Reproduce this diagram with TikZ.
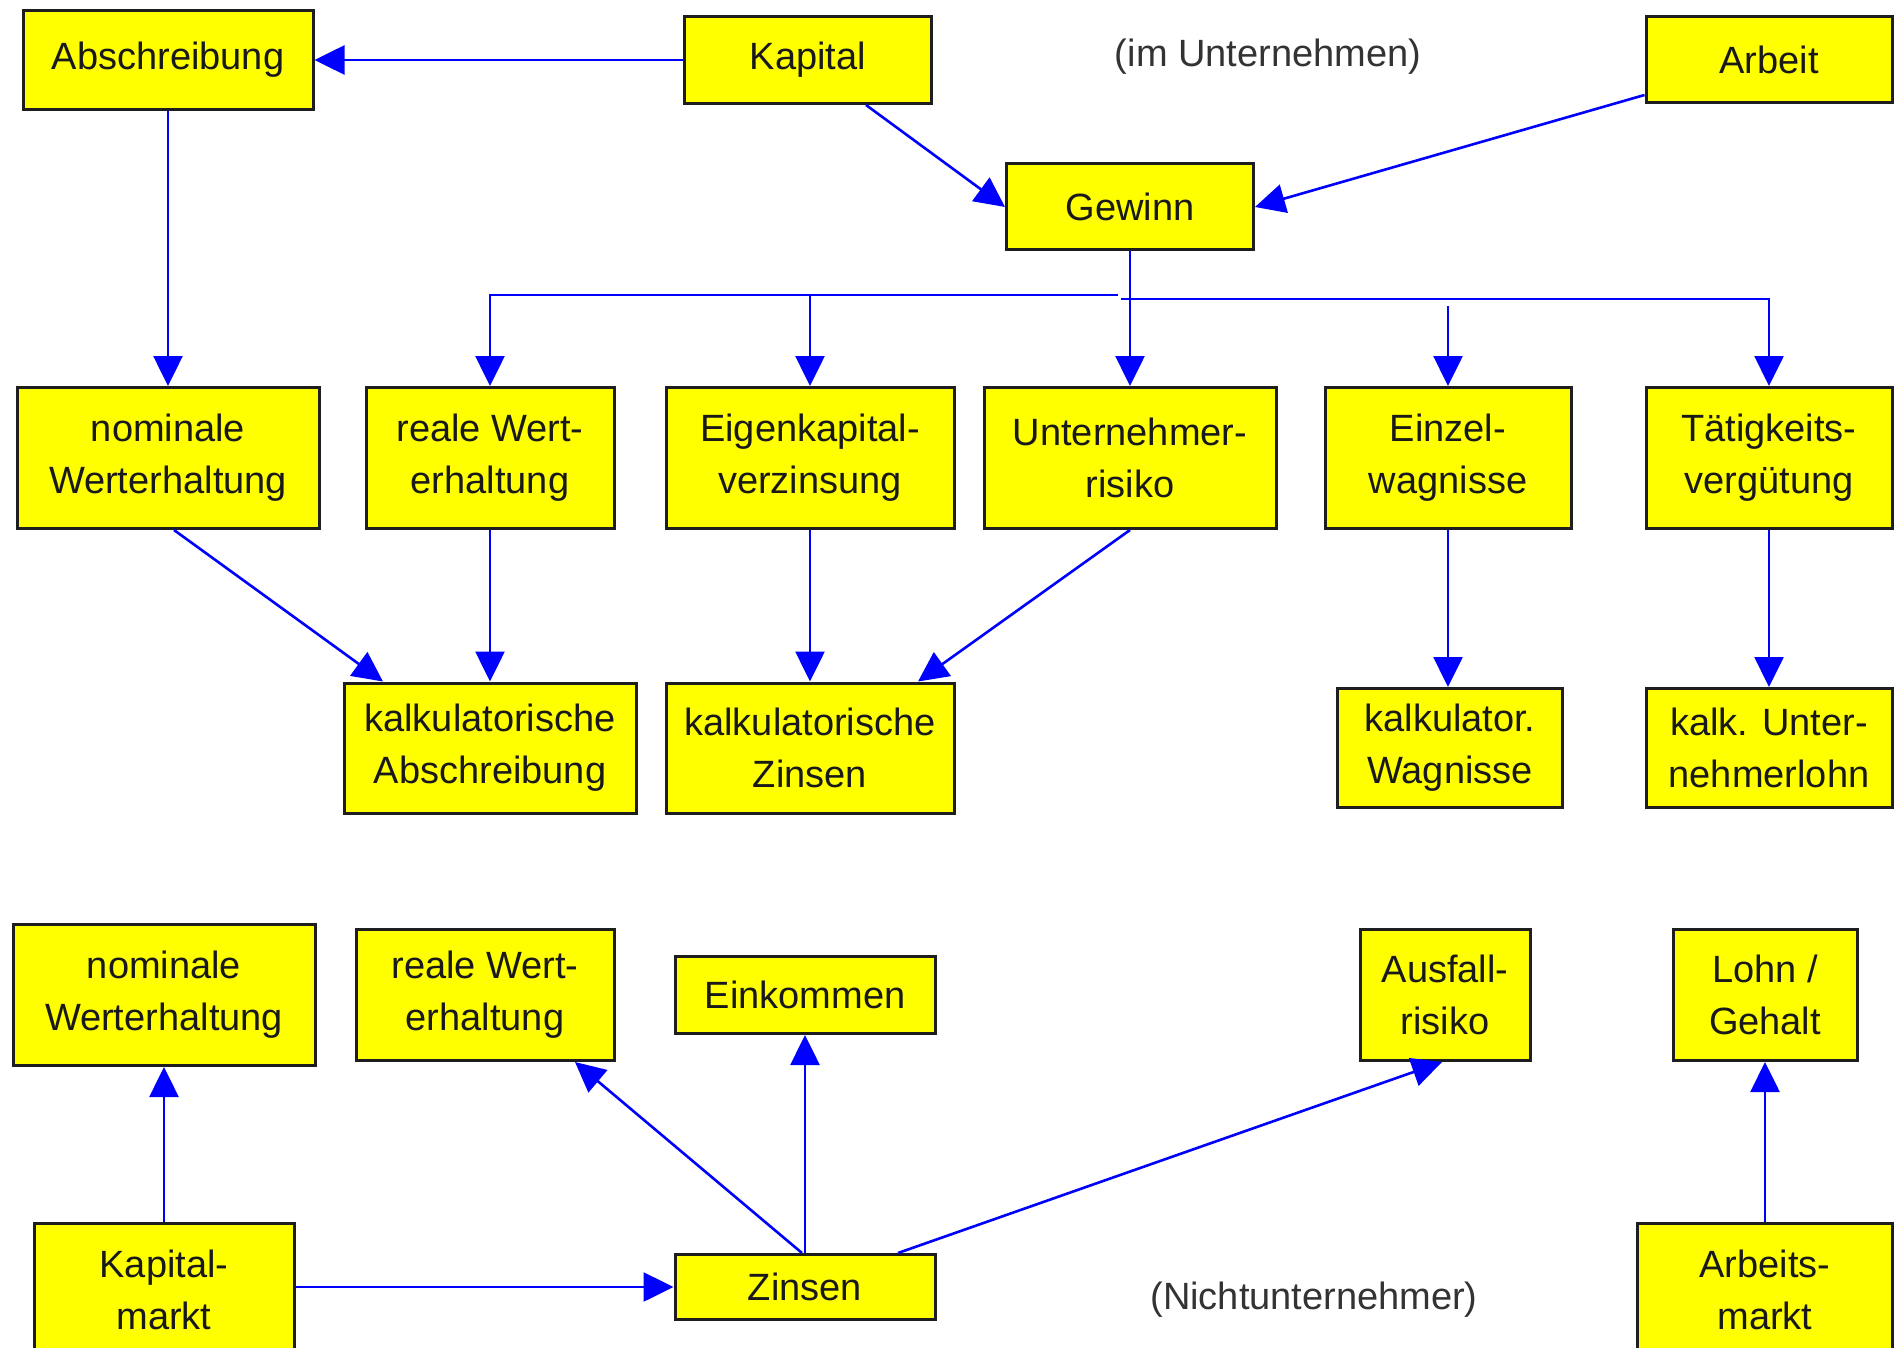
\documentclass[tikz,border=0pt]{standalone}
\usepackage{fontspec}
\setmainfont{Liberation Sans}
\usetikzlibrary{arrows.meta,calc}

\definecolor{boxfill}{RGB}{255,255,0}
\definecolor{edge}{RGB}{30,30,30}
\definecolor{flow}{RGB}{0,0,255}

\begin{document}
\begin{tikzpicture}[
  x=0.5pt, y=-0.5pt,
  box/.style={draw=edge, line width=1.5pt, fill=boxfill, align=center,
    inner sep=0pt, text=black!90,
    font=\fontsize{19}{26}\selectfont},
  sz/.style 2 args={minimum width=#1*0.5pt, minimum height=#2*0.5pt},
  note/.style={font=\fontsize{19}{26}\selectfont, text=black!80},
  link/.style={draw=flow, line width=1.3pt},
  arr/.style={link, -{Triangle[length=15pt,width=14.5pt]}},
]
\useasboundingbox (0,0) rectangle (1894,1348);
\fill[white] (0,0) rectangle (1894,1348);

% ---- in the enterprise ----
\node[box, sz={290}{99}]  (abs)   at (168,60)   {Abschreibung};
\node[box, sz={247}{87}]  (kap)   at (808,60)   {Kapital};
\node[box, sz={246}{86}]  (arb)   at (1769,60)  {Arbeit};
\node[box, sz={247}{86}]  (gew)   at (1130,207) {Gewinn};
\node[note] (imu) at (1268,57) {(im Unternehmen)};

\node[box, sz={302}{141}] (nom)   at (168,458)  {nominale\\Werterhaltung};
\node[box, sz={248}{141}] (real)  at (490,458)  {reale Wert-\\erhaltung};
\node[box, sz={288}{141}] (ekv)   at (810,458)  {Eigenkapital-\\verzinsung};
\node[box, sz={292}{141}] (uri)   at (1130,458) {Unternehmer-\\risiko};
\node[box, sz={246}{141}] (ezw)   at (1448,458) {Einzel-\\wagnisse};
\node[box, sz={246}{141}] (tvg)   at (1769,458) {Tätigkeits-\\vergütung};

\node[box, sz={292}{130}] (kabs)  at (490,748)  {kalkulatorische\\Abschreibung};
\node[box, sz={288}{130}] (kzin)  at (810,748)  {kalkulatorische\\Zinsen};
\node[box, sz={225}{119}] (kwag)  at (1450,748) {kalkulator.\\Wagnisse};
\node[box, sz={246}{119}] (klohn) at (1769,748) {kalk. Unter-\\nehmerlohn};

\draw[arr] (kap.west) -- (abs.east);
\draw[arr] (abs.south) -- (nom.north);
\draw[arr] ($(kap.south)+(58,0)$) -- (gew.west);
\draw[arr] ($(arb.west)+(0,35)$) -- (gew.east);

% distribution of the profit
\coordinate (splitL) at (1118,295);
\coordinate (splitR) at (1121,299);
\coordinate (ezwTop) at (1448,306);
\draw[arr] (gew.south) -- (uri.north);
\draw[arr] (splitL) -| (real.north);
\draw[arr] (ekv.north |- splitL) -- (ekv.north);
\draw[arr] (splitR) -| (tvg.north);
\draw[arr] (ezwTop) -- (ezw.north);

\draw[arr] ($(nom.south)+(6,0)$) -- ($(kabs.north)+(-107,0)$);
\draw[arr] (real.south) -- (kabs.north);
\draw[arr] (ekv.south) -- (kzin.north);
\draw[arr] (uri.south) -- ($(kzin.north)+(108,0)$);
\draw[arr] (ezw.south) -- (ezw.south |- kwag.north);
\draw[arr] (tvg.south) -- (klohn.north);

% ---- non-entrepreneurs ----
\node[box, sz={302}{141}] (nom2)  at (164,995)  {nominale\\Werterhaltung};
\node[box, sz={258}{131}] (real2) at (485,995)  {reale Wert-\\erhaltung};
\node[box, sz={260}{77}]  (eink)  at (805,995)  {Einkommen};
\node[box, sz={170}{131}] (ausf)  at (1445,995) {Ausfall-\\risiko};
\node[box, sz={184}{131}] (lohn)  at (1765,995) {Lohn /\\Gehalt};

\node[box, sz={260}{134}] (kmkt)  at (164,1290) {Kapital-\\markt};
\node[box, sz={260}{65}]  (zins)  at (805,1287) {Zinsen};
\node[box, sz={255}{134}] (amkt)  at (1765,1290) {Arbeits-\\markt};
\node[note] (nicht) at (1314,1300) {(Nichtunternehmer)};

\draw[arr] (kmkt.north) -- (nom2.south);
\draw[arr] (kmkt.east |- zins.west) -- (zins.west);
\draw[arr] ($(zins.north)+(-3,0)$) -- ($(real2.south)+(90,0)$);
\draw[arr] (zins.north) -- (eink.south);
\draw[arr] ($(zins.north)+(93,0)$) -- ($(ausf.south)+(-3,0)$);
\draw[arr] (amkt.north) -- (lohn.south);
\end{tikzpicture}
\end{document}
